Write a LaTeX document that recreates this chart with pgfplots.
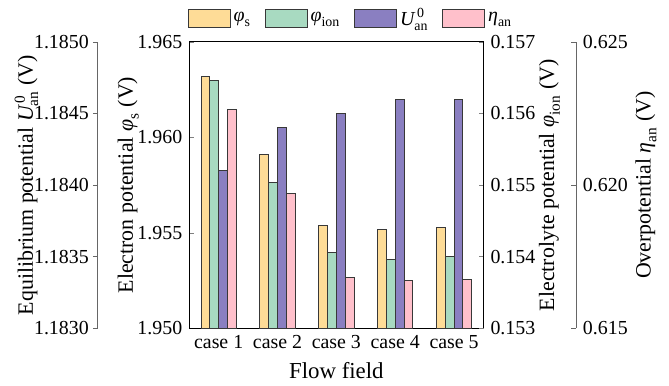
\documentclass[border=0pt]{standalone}
\usepackage{fontspec}
\setmainfont{Liberation Serif}
\usepackage{amsmath}
\usepackage{pgfplots}
\pgfplotsset{compat=1.18}
\definecolor{cS}{HTML}{FEDC97}
\definecolor{cI}{HTML}{A8DAC1}
\definecolor{cU}{HTML}{8A7FC1}
\definecolor{cE}{HTML}{FFC0CB}
\newcommand{\phis}{$\text{\itshape φ}_{\text{s}}$}
\newcommand{\phiion}{$\text{\itshape φ}_{\text{ion}}$}
\newcommand{\Uan}{$\text{\itshape U}_{\text{an}}^{\,\text{0}}$}
\newcommand{\etaan}{$\text{\itshape η}_{\text{an}}$}
\pgfplotsset{
  base/.style={
    scale only axis, width=148pt, height=144pt,
    xmin=0.5, xmax=5.5, ybar, bar width=0.15,
    /pgf/number format/assume math mode=true,
    tick label style={font=\fontsize{10}{12}\selectfont},
    ylabel style={font=\fontsize{11}{13}\selectfont},
    xlabel style={font=\fontsize{11.5}{13}\selectfont},
    major tick length=2.5pt,
    yticklabel style={/pgf/number format/fixed, /pgf/number format/fixed zerofill, /pgf/number format/precision=3},
  },
  barS/.style={fill=cS, draw=black!78, line width=0.5pt},
  barI/.style={fill=cI, draw=black!78, line width=0.5pt},
  barU/.style={fill=cU, draw=black!78, line width=0.5pt},
  barE/.style={fill=cE, draw=black!78, line width=0.5pt},
}
\begin{document}
\begin{tikzpicture}
% main axis: electron potential
\begin{axis}[base,
  ymin=1.950, ymax=1.965, ytick={1.950,1.955,1.960,1.965},
  ytick pos=left, tick align=inside,
  xtick={1,2,3,4,5}, xticklabels={case 1,case 2,case 3,case 4,case 5},
  major x tick style={draw=none},
  xlabel={Flow field},
  ylabel={Electron potential \phis\ (V)},
  ylabel shift=-7.5pt,
  legend columns=4,
  legend image code/.code={\draw[#1] (0pt,-4.5pt) rectangle (21pt,4.5pt);},
  legend style={draw=none, fill=none, at={(axis description cs:0.553,1.083)}, anchor=center,
    font=\fontsize{10}{12}\selectfont,
    /tikz/every odd column/.append style={column sep=-0.5pt},
    /tikz/every even column/.append style={column sep=5pt}},
]
\addplot[barS, bar shift=-0.225] coordinates {(1,1.96321) (2,1.95909) (3,1.95539) (4,1.95518) (5,1.95527)};
\addlegendimage{barI}
\addlegendimage{barU}
\addlegendimage{barE}
\legend{\phis, \phiion, \Uan\hspace{3pt}, \etaan}
\end{axis}
% electrolyte potential (right)
\begin{axis}[base,
  ymin=0.153, ymax=0.157, ytick={0.153,0.154,0.155,0.156,0.157},
  axis y line*=right, axis x line=none, tick align=inside,
  ylabel={Electrolyte potential \phiion\ (V)},
  ylabel shift=-5pt,
]
\addplot[barI, bar shift=-0.075] coordinates {(1,0.15646) (2,0.15503) (3,0.15406) (4,0.15396) (5,0.15400)};
\end{axis}
% equilibrium potential (outer left)
\begin{axis}[base,
  ymin=1.1830, ymax=1.1850, ytick={1.1830,1.1835,1.1840,1.1845,1.1850},
  yticklabel style={/pgf/number format/precision=4, /tikz/xshift=1.5pt},
  axis y line*=left, axis x line=none, tick align=outside,
  axis y line shift=46pt,
  y axis line style={black!60}, ytick style={black!60},
  ylabel={Equilibrium potential \Uan\ (V)},
  ylabel shift=-9pt,
]
\addplot[barU, bar shift=0.075] coordinates {(1,1.18410) (2,1.18440) (3,1.18450) (4,1.18460) (5,1.18460)};
\end{axis}
% overpotential (outer right)
\begin{axis}[base,
  ymin=0.615, ymax=0.625, ytick={0.615,0.620,0.625},
  axis y line*=right, axis x line=none, tick align=inside,
  axis y line shift=46.5pt,
  y axis line style={black!60}, ytick style={black!60},
  ylabel={Overpotential \etaan\ (V)},
  ylabel shift=-3pt,
]
\addplot[barE, bar shift=0.225] coordinates {(1,0.62264) (2,0.61970) (3,0.61676) (4,0.61667) (5,0.61670)};
\end{axis}
\path (current bounding box.south west) -- ++(-4pt,0pt);
\path (current bounding box.north east) -- ++(3pt,0pt);
\end{tikzpicture}
\end{document}
